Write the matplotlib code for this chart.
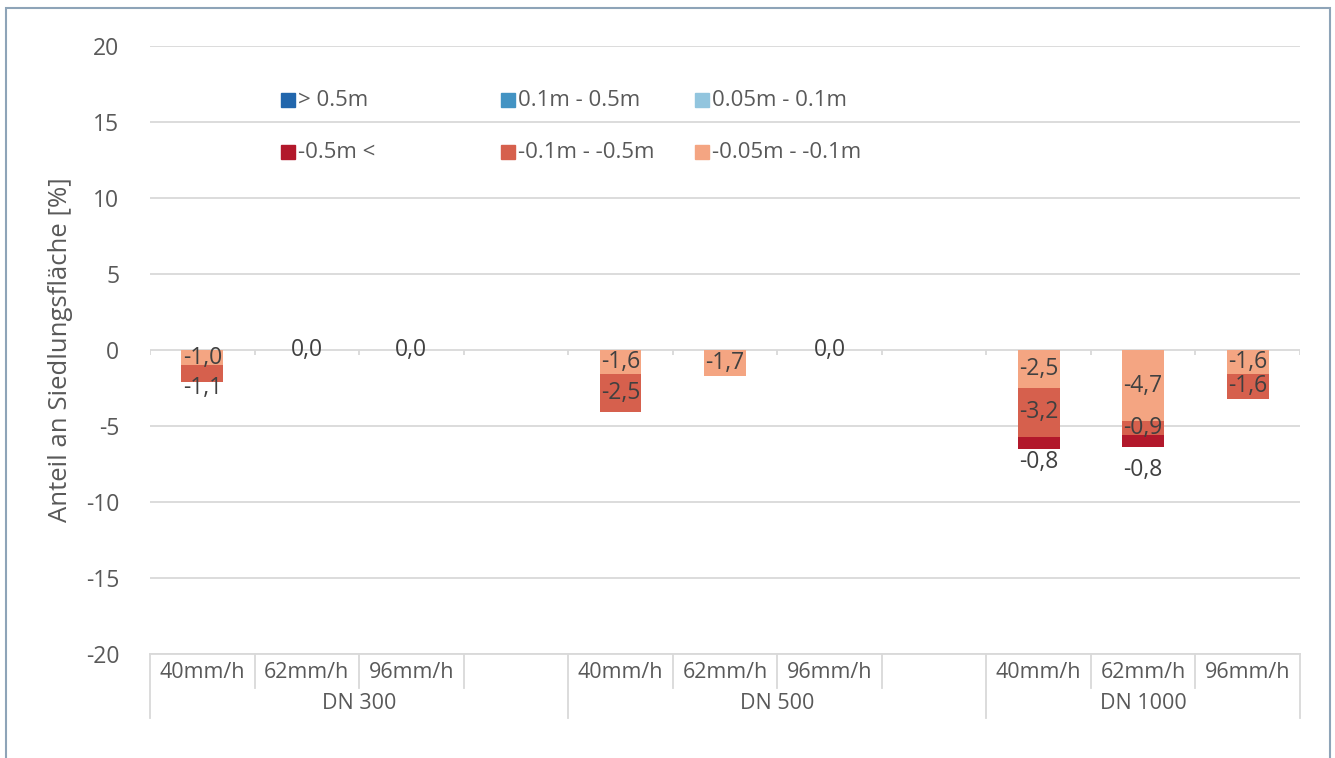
import numpy as np
import matplotlib
matplotlib.use("Agg")
import matplotlib.pyplot as plt
from matplotlib.patches import Rectangle

plt.rcParams['font.family'] = ['Open Sans', 'DejaVu Sans']
plt.rcParams['axes.unicode_minus'] = False

groups = ["DN 300", "DN 500", "DN 1000"]
rains = ["40mm/h", "62mm/h", "96mm/h"]

series_names = ["> 0.5m", "0.1m - 0.5m", "0.05m - 0.1m",
                "-0.5m <", "-0.1m - -0.5m", "-0.05m - -0.1m"]
series_colors = ["#2166ac", "#4393c3", "#92c5de",
                 "#b2182b", "#d6604d", "#f4a582"]

nan = np.nan
# bars in order: DN300 40/62/96, DN500 40/62/96, DN1000 40/62/96
v_light = [-1.0, 0.0, 0.0, -1.6, -1.7, 0.0, -2.5, -4.7, -1.6]
v_mid = [-1.1, nan, nan, -2.5, nan, nan, -3.2, -0.9, -1.6]
v_dark = [nan, nan, nan, nan, nan, nan, -0.8, -0.8, nan]

# labels moved by hand in the original (series, bar) -> pixel shift downward
label_shift = {("mid", 0): 14, ("dark", 6): 19, ("dark", 7): 29}

W, H = 1335, 758
fig = plt.figure(figsize=(W / 100, H / 100), dpi=100)
ax = fig.add_axes([150 / W, 1 - 654 / H, 1150 / W, 608 / H])

n_slots = 4 * len(groups) - 1
x = []
for g in range(len(groups)):
    for r in range(len(rains)):
        x.append(g * 4 + r)
x = np.array(x)

grid_c = "#d9d9d9"
txt_c = "#595959"
lab_c = "#404040"

bottom = np.zeros(len(x))
stack = [("light", v_light, series_colors[5]),
         ("mid", v_mid, series_colors[4]),
         ("dark", v_dark, series_colors[3])]
for key, vals, col in stack:
    vals = np.array(vals, dtype=float)
    h = np.nan_to_num(vals)
    ax.bar(x, h, 0.4, bottom=bottom, color=col, zorder=3)
    for i, v in enumerate(vals):
        if np.isnan(v):
            continue
        yc = bottom[i] + v / 2
        dy = -label_shift.get((key, i), 0) * 0.72
        ax.annotate(f"{v:.1f}".replace(".", ","), (x[i], yc),
                    xytext=(0, dy), textcoords="offset points",
                    ha="center", va="center", fontsize=16.5, color=lab_c,
                    zorder=5)
    bottom = bottom + h

ax.set_xlim(-0.5, n_slots - 0.5)
ax.set_ylim(-20, 20)
ax.set_yticks(np.arange(-20, 21, 5))
ax.tick_params(axis="y", length=0, pad=22, labelsize=16.5, labelcolor=txt_c)
ax.set_xticks([])
ax.grid(axis="y", color=grid_c, lw=1.3, zorder=0)
for s in ax.spines.values():
    s.set_visible(False)
ax.set_ylabel("Anteil an Siedlungsfläche [%]", fontsize=18.5, color=txt_c,
              labelpad=9)

# small tick marks hanging from the zero line
bounds = np.arange(-0.5, n_slots, 1.0)
ax.vlines(bounds, -0.35, 0, color=grid_c, lw=1.3, zorder=1)

# two-level category axis below the plot
tr = ax.get_xaxis_transform()
ax.plot([-0.5, n_slots - 0.5], [0, 0], transform=tr, color=grid_c, lw=1.3,
        clip_on=False)
group_edges = [-0.5, 3.5, 7.5, n_slots - 0.5]
for b in bounds:
    low = -0.105 if b in group_edges else -0.056
    ax.plot([b, b], [0, low], transform=tr, color=grid_c, lw=1.3,
            clip_on=False)
for i, xi in enumerate(x):
    ax.text(xi, -0.03, rains[i % 3], transform=tr, ha="center", va="center",
            fontsize=15.5, color=txt_c)
for g, name in enumerate(groups):
    xc = (group_edges[g] + group_edges[g + 1]) / 2
    ax.text(xc, -0.082, name, transform=tr, ha="center", va="center",
            fontsize=15.5, color=txt_c)

# legend laid out like the original, rows of three
col_x = [288, 508, 702]
row_y = [100, 152]
for k, name in enumerate(series_names):
    px = col_x[k % 3]
    py = row_y[k // 3]
    fig.patches.append(Rectangle(((px - 7) / W, 1 - (py + 7) / H), 14 / W, 14 / H,
                                 transform=fig.transFigure,
                                 color=series_colors[k]))
    fig.text((px + 10) / W, 1 - py / H, name, ha="left", va="center",
             fontsize=16, color=txt_c)

# outer chart frame
fig.patches.append(Rectangle((6 / W, -0.05), 1324 / W, 1.05 - 8 / H,
                             transform=fig.transFigure, fill=False,
                             edgecolor="#8ea4b8", lw=1.5))

fig.savefig("out.png", dpi=100)
